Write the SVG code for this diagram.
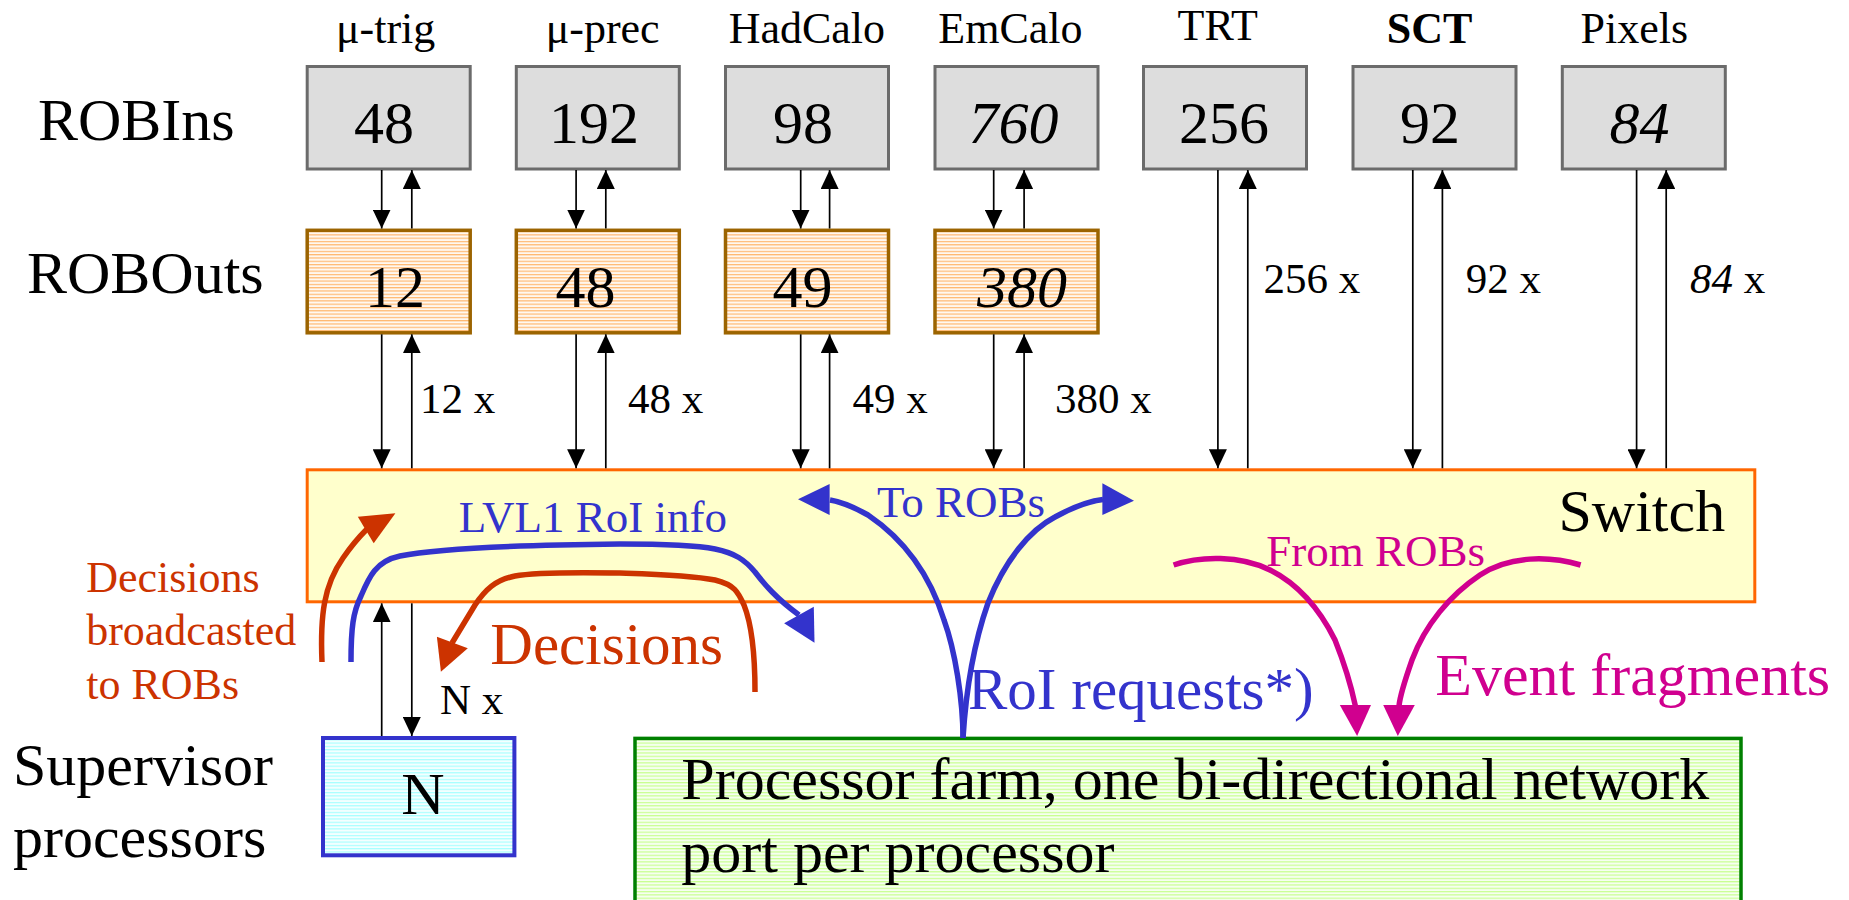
<svg xmlns="http://www.w3.org/2000/svg" width="1849" height="900" viewBox="0 0 1849 900">
<style>
text{font-family:"Liberation Serif","Times New Roman",serif;fill:#000}
.hdr{font-size:44px}
.big{font-size:60px}
.num{font-size:60px;text-anchor:middle}
.cnt{font-size:43px}
.it{font-style:italic}
.robin{fill:#dddddd;stroke:#6b6b6b;stroke-width:3}
.robout{fill:url(#stripeO);stroke:#9c6400;stroke-width:3.5}
.conn{stroke:#000;stroke-width:1.7;fill:none}
.dn{marker-end:url(#ah)}
.thick{fill:none;stroke-width:5.5}
.red{stroke:#cc3300}
.blue{stroke:#3333cc}
.mag{stroke:#d0008f}
.fred{fill:#cc3300}
.fblue{fill:#3333cc}
.fmag{fill:#d0008f}
</style>
<defs>
<marker id="ah" markerUnits="userSpaceOnUse" markerWidth="19" markerHeight="18" refX="19" refY="9" orient="auto">
<path d="M0,0 L19,9 L0,18 z" fill="#000"/>
</marker>
<pattern id="stripeO" patternUnits="userSpaceOnUse" width="10" height="3.3">
<rect width="10" height="3.3" fill="#fff8f0"/>
<rect width="10" height="1.2" fill="#ffb870"/>
</pattern>
<pattern id="stripeC" patternUnits="userSpaceOnUse" width="10" height="3.3">
<rect width="10" height="3.3" fill="#f4ffff"/>
<rect width="10" height="1.2" fill="#a8ffff"/>
</pattern>
<pattern id="stripeG" patternUnits="userSpaceOnUse" width="10" height="3.3">
<rect width="10" height="3.3" fill="#f6fff0"/>
<rect width="10" height="1.2" fill="#c8ff90"/>
</pattern>
</defs>

<g id="row-labels">
<text class="big" x="38" y="140">ROBIns</text>
<text class="big" x="27" y="292.7">ROBOuts</text>
<text class="big" x="13" y="785">Supervisor</text>
<text class="big" x="13" y="856.7">processors</text>
</g>

<g id="mu-trig">
<text class="hdr" x="336" y="43">μ-trig</text>
<rect class="robin" x="307.2" y="66.5" width="163" height="102.5"/>
<text class="num" x="384" y="142.7">48</text>
<rect class="robout" x="307.2" y="230.3" width="163" height="102.5"/>
<text class="num" x="395" y="306.7">12</text>
</g>
<g id="mu-prec">
<text class="hdr" x="545.7" y="43">μ-prec</text>
<rect class="robin" x="516.3" y="66.5" width="163" height="102.5"/>
<text class="num" x="594" y="142.7">192</text>
<rect class="robout" x="516.3" y="230.3" width="163" height="102.5"/>
<text class="num" x="585.5" y="306.7">48</text>
</g>
<g id="hadcalo">
<text class="hdr" x="728.7" y="43">HadCalo</text>
<rect class="robin" x="725.5" y="66.5" width="163" height="102.5"/>
<text class="num" x="803" y="142.7">98</text>
<rect class="robout" x="725.5" y="230.3" width="163" height="102.5"/>
<text class="num" x="802.5" y="306.7">49</text>
</g>
<g id="emcalo">
<text class="hdr" x="938.3" y="43">EmCalo</text>
<rect class="robin" x="935" y="66.5" width="163" height="102.5"/>
<text class="num it" x="1013.6" y="142.7">760</text>
<rect class="robout" x="935" y="230.3" width="163" height="102.5"/>
<text class="num it" x="1022" y="306.7">380</text>
</g>
<g id="trt">
<text class="hdr" x="1177.5" y="39.7">TRT</text>
<rect class="robin" x="1143.5" y="66.5" width="163" height="102.5"/>
<text class="num" x="1224" y="142.7">256</text>
</g>
<g id="sct">
<text class="hdr" x="1386.7" y="43.3" font-weight="bold">SCT</text>
<rect class="robin" x="1353" y="66.5" width="163" height="102.5"/>
<text class="num" x="1430" y="142.7">92</text>
</g>
<g id="pixels">
<text class="hdr" x="1580.6" y="43">Pixels</text>
<rect class="robin" x="1562.3" y="66.5" width="163" height="102.5"/>
<text class="num it" x="1639.6" y="142.7">84</text>
</g>

<g id="switch">
<rect x="307.2" y="469.8" width="1447.6" height="132" fill="#ffffcc" stroke="#ff6600" stroke-width="3"/>
<text class="big" x="1558.5" y="530.7">Switch</text>
</g>

<g id="supervisor">
<rect x="323" y="738" width="191.4" height="117.3" fill="url(#stripeC)" stroke="#3333cc" stroke-width="4"/>
<text class="num" x="423" y="814" font-size="58">N</text>
</g>

<g id="farm">
<rect x="635" y="738.4" width="1106" height="200" fill="url(#stripeG)" stroke="#008000" stroke-width="3.5"/>
<text class="big" x="681.3" y="799.3">Processor farm, one bi-directional network</text>
<text class="big" x="681.3" y="871.7">port per processor</text>
</g>

<g id="connectors">
<line class="conn dn" x1="381.7" y1="170" x2="381.7" y2="228.5"/>
<line class="conn dn" x1="411.8" y1="228.5" x2="411.8" y2="170"/>
<line class="conn dn" x1="576.1" y1="170" x2="576.1" y2="228.5"/>
<line class="conn dn" x1="605.8" y1="228.5" x2="605.8" y2="170"/>
<line class="conn dn" x1="800.7" y1="170" x2="800.7" y2="228.5"/>
<line class="conn dn" x1="829.6" y1="228.5" x2="829.6" y2="170"/>
<line class="conn dn" x1="993.7" y1="170" x2="993.7" y2="228.5"/>
<line class="conn dn" x1="1024.1" y1="228.5" x2="1024.1" y2="170"/>

<line class="conn dn" x1="381.7" y1="334.3" x2="381.7" y2="468.3"/>
<line class="conn dn" x1="411.8" y1="468.3" x2="411.8" y2="334.3"/>
<line class="conn dn" x1="576.1" y1="334.3" x2="576.1" y2="468.3"/>
<line class="conn dn" x1="605.8" y1="468.3" x2="605.8" y2="334.3"/>
<line class="conn dn" x1="800.7" y1="334.3" x2="800.7" y2="468.3"/>
<line class="conn dn" x1="829.6" y1="468.3" x2="829.6" y2="334.3"/>
<line class="conn dn" x1="993.7" y1="334.3" x2="993.7" y2="468.3"/>
<line class="conn dn" x1="1024.1" y1="468.3" x2="1024.1" y2="334.3"/>

<line class="conn dn" x1="1217.9" y1="170" x2="1217.9" y2="468.3"/>
<line class="conn dn" x1="1247.8" y1="468.3" x2="1247.8" y2="170"/>
<line class="conn dn" x1="1412.8" y1="170" x2="1412.8" y2="468.3"/>
<line class="conn dn" x1="1442.4" y1="468.3" x2="1442.4" y2="170"/>
<line class="conn dn" x1="1636.6" y1="170" x2="1636.6" y2="468.3"/>
<line class="conn dn" x1="1666.2" y1="468.3" x2="1666.2" y2="170"/>

<line class="conn dn" x1="381.7" y1="736" x2="381.7" y2="603.3"/>
<line class="conn dn" x1="411.8" y1="603.3" x2="411.8" y2="736"/>

<text class="cnt" x="420" y="412.7">12 x</text>
<text class="cnt" x="628" y="412.7">48 x</text>
<text class="cnt" x="852.5" y="412.7">49 x</text>
<text class="cnt" x="1055" y="412.7">380 x</text>
<text class="cnt" x="1263.6" y="293.3">256 x</text>
<text class="cnt" x="1465.7" y="293.3">92 x</text>
<text class="cnt" x="1690" y="293.3"><tspan class="it">84</tspan> x</text>
<text class="cnt" x="440" y="714.3">N x</text>

<!-- Decisions broadcasted to ROBs -->
<path class="thick red" d="M322,662 C320,615 324,585 343,558 Q354,542 367,529"/>
<polygon class="fred" points="395.4,513.3 357.8,516.7 373.7,543.3"/>
<text class="fred" x="86.2" y="592.3" font-size="44">Decisions</text>
<text class="fred" x="86.2" y="645" font-size="44">broadcasted</text>
<text class="fred" x="86.2" y="699" font-size="44">to ROBs</text>

<!-- LVL1 RoI info -->
<path class="thick blue" d="M351,662 C351,628 353,612 361,596 C369,577 376,561 400,556 C440,548 520,545 620,544 C670,544 700,546 715,549 C735,553 745,560 755,572 C765,585 776,598 799,615"/>
<polygon class="fblue" points="784.1,623.3 813.8,606.7 814.5,642.7"/>
<text class="fblue" x="458.7" y="531.7" font-size="45">LVL1 RoI info</text>

<!-- Decisions -->
<path class="thick red" d="M755,692 C755,660 752,625 744,605 C738,592 735,585 715,580 C690,575 650,574 620,573 C560,572 530,573 515,576 C495,580 485,590 475,605 L452,643"/>
<polygon class="fred" points="440.9,671.7 436.9,636.7 467.8,648.3"/>
<text class="fred" x="490.3" y="664" font-size="59">Decisions</text>

<!-- RoI requests To ROBs -->
<path class="thick blue" d="M963,738 C963,700 955,650 944,620 C930,575 905,540 868,515 C852,506 842,502 830,500"/>
<polygon class="fblue" points="798,499.3 829.6,484 829.6,515"/>
<path class="thick blue" d="M963,738 C966,690 975,640 988,603 C1005,560 1030,530 1055,517 C1075,506 1090,501 1103,499.5"/>
<polygon class="fblue" points="1134,500.7 1102.4,483.3 1102.4,515"/>
<text class="fblue" x="877" y="517.3" font-size="45">To ROBs</text>
<text class="fblue" x="968" y="709.3" font-size="59">RoI requests*)</text>

<!-- Event fragments From ROBs -->
<path class="thick mag" d="M1173.6,565 C1200,556 1240,555 1270,570 C1300,585 1320,610 1335,640 C1345,665 1352,690 1355.4,706"/>
<polygon class="fmag" points="1339.8,705 1371,705 1357.1,736"/>
<path class="thick mag" d="M1580.6,565 C1550,556 1510,555 1480,575 C1450,595 1425,625 1412,660 C1405,680 1400,695 1399,706"/>
<polygon class="fmag" points="1383.2,705 1414.8,705 1397.8,736"/>
<text class="fmag" x="1266.3" y="566" font-size="45">From ROBs</text>
<text class="fmag" x="1435.3" y="695" font-size="60">Event fragments</text>
</g>
</svg>
